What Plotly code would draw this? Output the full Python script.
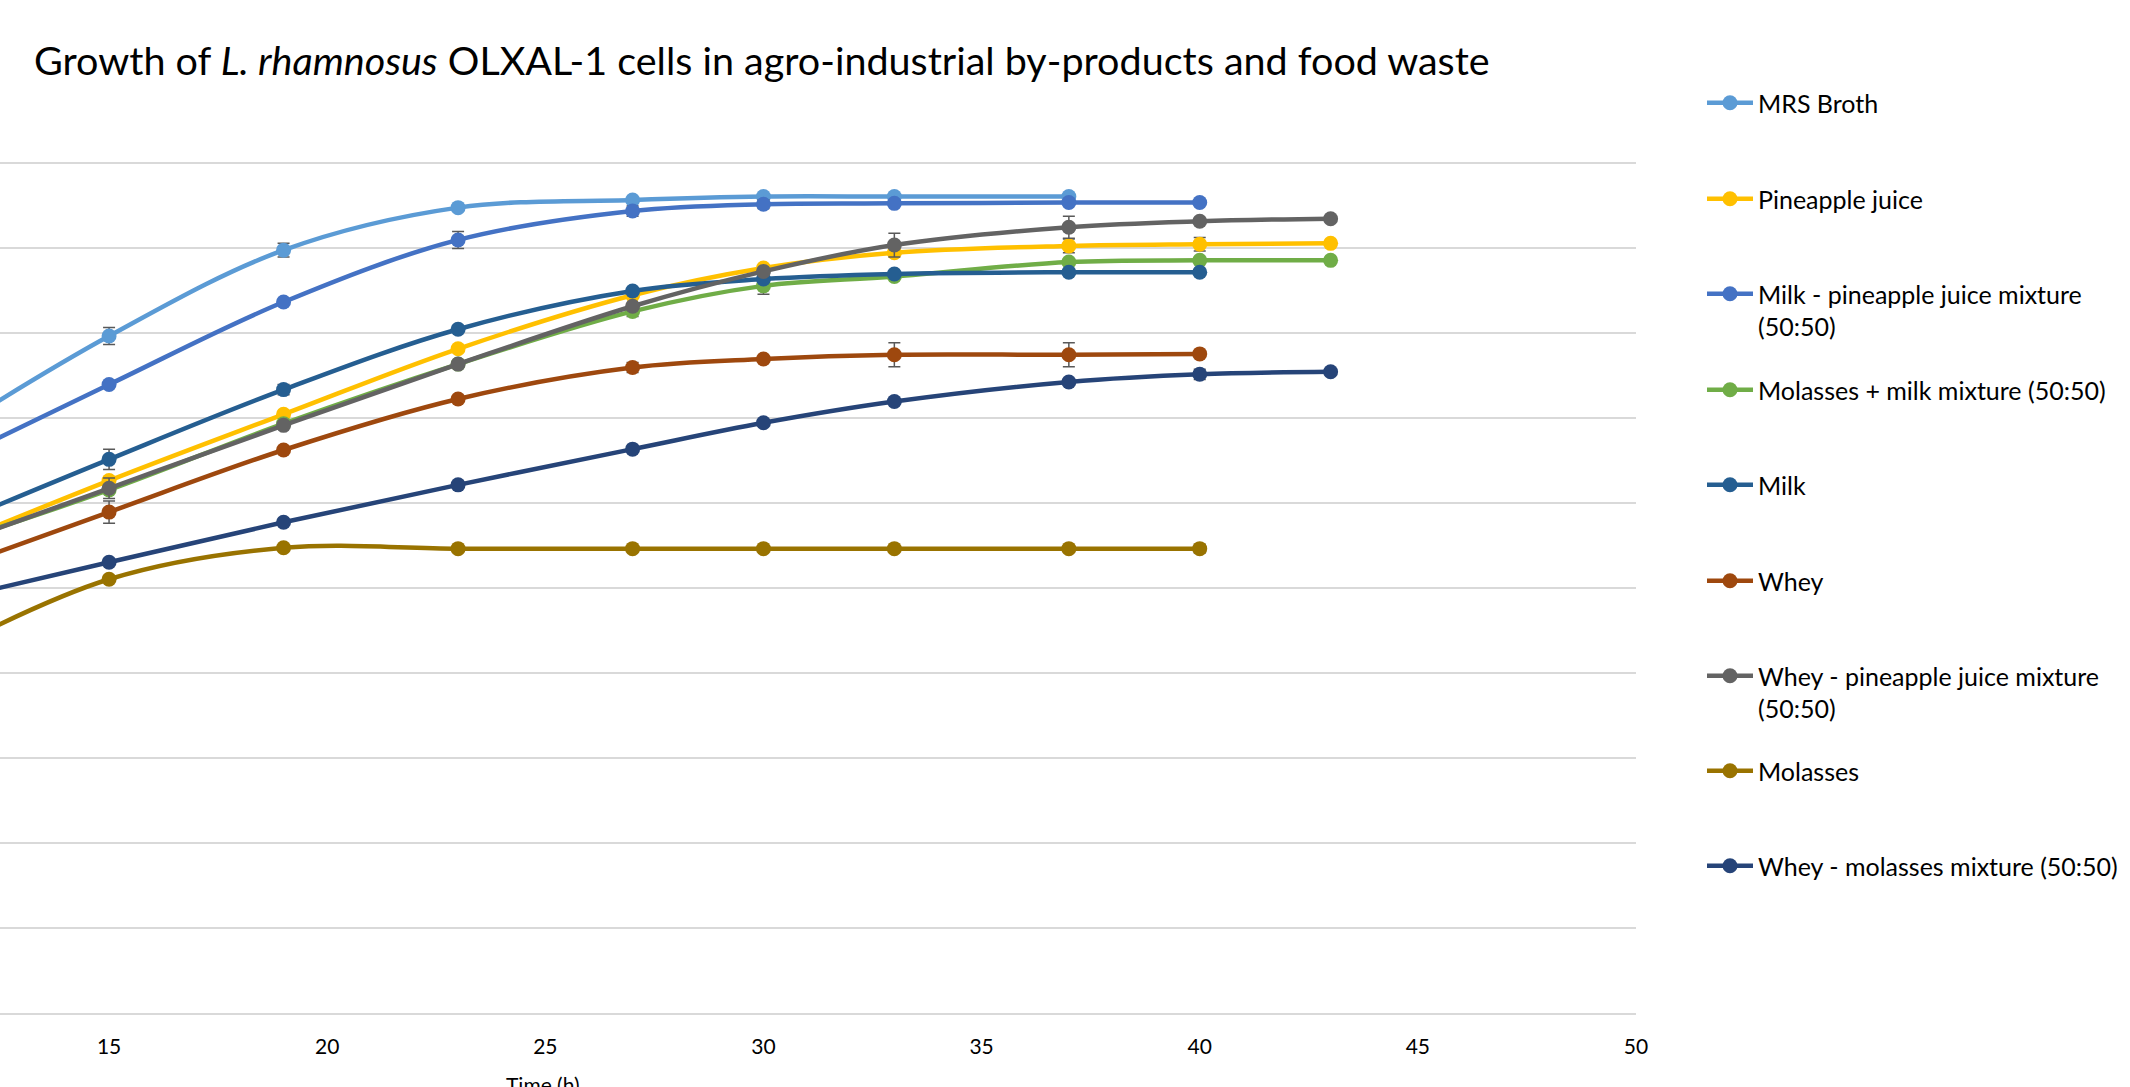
import plotly.graph_objects as go

# ---------------- data ----------------
time = [11, 15, 19, 23, 27, 30, 33, 37, 40, 43]

series_names = [
    "MRS Broth",
    "Pineapple juice",
    "Milk - pineapple juice mixture<br>(50:50)",
    "Molasses + milk mixture (50:50)",
    "Milk",
    "Whey",
    "Whey - pineapple juice mixture<br>(50:50)",
    "Molasses",
    "Whey - molasses mixture (50:50)",
]

mrs_broth      = [6.73, 7.96, 8.97, 9.47, 9.56, 9.60, 9.60, 9.60]
pineapple      = [5.43, 6.26, 7.04, 7.81, 8.44, 8.76, 8.94, 9.02, 9.04, 9.05]
milk_pineapple = [6.40, 7.39, 8.36, 9.09, 9.43, 9.51, 9.52, 9.53, 9.53]
molasses_milk  = [5.46, 6.15, 6.93, 7.63, 8.25, 8.55, 8.66, 8.83, 8.85, 8.85]
milk           = [5.66, 6.51, 7.33, 8.04, 8.49, 8.63, 8.69, 8.71, 8.71]
whey           = [5.15, 5.89, 6.62, 7.22, 7.59, 7.69, 7.74, 7.74, 7.75]
whey_pineapple = [5.43, 6.17, 6.91, 7.63, 8.31, 8.72, 9.03, 9.24, 9.31, 9.34]
molasses       = [4.19, 5.10, 5.47, 5.46, 5.46, 5.46, 5.46, 5.46, 5.46]
whey_molasses  = [4.82, 5.30, 5.77, 6.21, 6.63, 6.94, 7.19, 7.42, 7.51, 7.54]

err_mrs_broth      = [None, 0.10, 0.08, None, None, None, None, None]
err_pineapple      = [None, None, None, None, None, None, None, 0.08, 0.08, None]
err_milk_pineapple = [None, None, None, 0.10, 0.06, 0.05, None, None, None]
err_molasses_milk  = [None, None, None, None, 0.06, 0.10, None, None, None, None]
err_milk           = [None, 0.12, 0.06, None, None, None, None, None, None]
err_whey           = [None, 0.13, None, None, 0.06, None, 0.14, 0.14, None]
err_whey_pineapple = [None, 0.12, None, None, None, None, 0.14, 0.13, None, None]
err_molasses       = [None, None, None, None, None, None, None, None, 0.05]
err_whey_molasses  = [None, None, None, None, None, None, None, None, 0.06, None]

x_ticks = [15, 20, 25, 30, 35, 40, 45, 50]

# ---------------- styling ----------------
colors = ["#5B9BD5", "#FFC000", "#4472C4", "#70AD47", "#255E91",
          "#9E480E", "#636363", "#997300", "#264478"]
values = [mrs_broth, pineapple, milk_pineapple, molasses_milk, milk,
          whey, whey_pineapple, molasses, whey_molasses]
errors = [err_mrs_broth, err_pineapple, err_milk_pineapple, err_molasses_milk,
          err_milk, err_whey, err_whey_pineapple, err_molasses, err_whey_molasses]

FONT = "Lato"
W, H = 2130, 1087
legend_centers_px = [102, 198, 293, 389, 484, 580, 675, 770, 865]

fig = go.Figure()
for i, (name, vals, errs, col) in enumerate(zip(series_names, values, errors, colors)):
    lname = "legend" if i == 0 else f"legend{i+1}"
    fig.add_trace(go.Scatter(
        x=time[:len(vals)], y=vals, name=name, mode="lines+markers",
        line=dict(color=col, width=4.5, shape="spline", smoothing=1),
        marker=dict(color=col, size=15),
        error_y=dict(type="data", array=errs, visible=True,
                     color="#595959", thickness=1.5, width=6),
        legend=lname,
    ))

layout_legends = {}
for i, cy in enumerate(legend_centers_px):
    lname = "legend" if i == 0 else f"legend{i+1}"
    layout_legends[lname] = dict(
        x=1702 / W, xanchor="left", xref="container",
        y=1 - (cy - 22) / H, yanchor="top", yref="container",
        font=dict(family=FONT, size=25, color="#000000"),
        bgcolor="rgba(0,0,0,0)", borderwidth=0, valign="top",
        itemwidth=46, tracegroupgap=0,
    )

fig.update_layout(
    width=W, height=H,
    margin=dict(l=0, r=494, t=160, b=74, autoexpand=False),
    paper_bgcolor="white", plot_bgcolor="white",
    title=dict(
        text="Growth of <i>L. rhamnosus</i> OLXAL-1 cells in agro-industrial by-products and food waste",
        x=34 / W, xanchor="left", xref="container",
        y=1 - 61 / H, yanchor="middle", yref="container",
        font=dict(family=FONT, size=39.5, color="#000000"),
    ),
    showlegend=True,
    **layout_legends,
)

fig.update_xaxes(
    range=[12.5, 50], tickvals=x_ticks, ticktext=[str(t) for t in x_ticks],
    showgrid=False, zeroline=False, showline=True, linecolor="#D9D9D9", linewidth=2,
    ticks="", tickfont=dict(family=FONT, size=21, color="#000000"),
    ticklabelstandoff=14,
)
fig.update_yaxes(
    range=[0, 10.03], tickvals=list(range(1, 11)), showgrid=True,
    gridcolor="#D9D9D9", gridwidth=2,
    zeroline=False, showticklabels=False, ticks="",
)

fig.add_annotation(
    text="Time (h)", xref="paper", yref="paper",
    x=543 / 1636, y=-(1070 - 1013) / 853, xanchor="center", yanchor="top",
    showarrow=False, font=dict(family=FONT, size=21, color="#000000"),
)

fig.write_html("out.html", config={"displayModeBar": False},
               post_script="document.body.style.margin='0';")
